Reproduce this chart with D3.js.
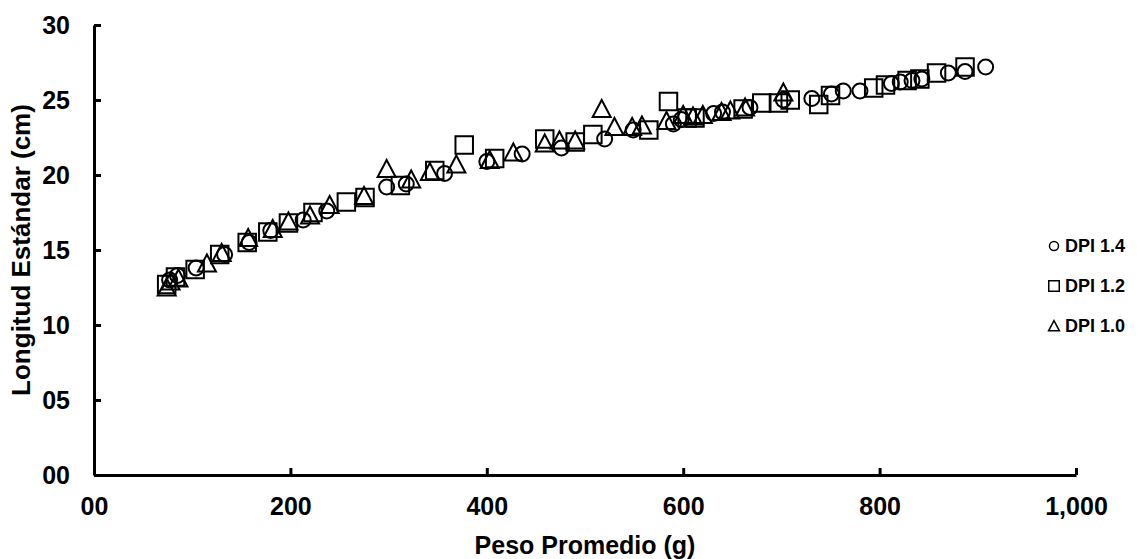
<!DOCTYPE html>
<html>
<head>
<meta charset="utf-8">
<script src="https://cdn.jsdelivr.net/npm/d3@7"></script>
<style>
  body { margin: 0; background: #fff; }
  text { font-family: "Liberation Sans", Arial, sans-serif; font-weight: bold; fill: #000; }
</style>
</head>
<body>
<div id="chart"></div>
<script>
// Peso promedio (g) vs longitud estandar (cm), one list per DPI
const dpi14 = [
  [77, 13.0], [85, 13.3], [104, 13.8], [133, 14.7], [158, 15.5], [180, 16.3],
  [213, 17.0], [237, 17.6], [298, 19.2], [318, 19.4], [357, 20.1], [400, 20.9],
  [436, 21.4], [476, 21.8], [520, 22.4], [549, 23.0], [590, 23.4], [598, 23.7],
  [631, 24.1], [640, 24.2], [668, 24.5], [702, 25.0], [731, 25.1], [751, 25.4],
  [763, 25.6], [780, 25.6], [812, 26.1], [821, 26.2], [833, 26.3], [843, 26.4],
  [870, 26.8], [887, 26.9], [908, 27.2]
];
const dpi12 = [
  [74, 12.7], [83, 13.2], [103, 13.7], [128, 14.7], [156, 15.5], [177, 16.2],
  [198, 16.8], [223, 17.5], [257, 18.2], [276, 18.5], [312, 19.3], [347, 20.3],
  [377, 22.0], [408, 21.1], [459, 22.4], [490, 22.2], [508, 22.7], [565, 23.0],
  [585, 24.9], [604, 23.8], [612, 23.8], [661, 24.4], [680, 24.8], [697, 24.8],
  [709, 25.0], [738, 24.7], [750, 25.3], [794, 25.8], [806, 26.0], [828, 26.3],
  [841, 26.4], [858, 26.8], [887, 27.2]
];
const dpi10 = [
  [74, 12.5], [78, 12.9], [86, 13.1], [115, 14.1], [130, 14.8], [157, 15.8],
  [182, 16.4], [198, 16.9], [220, 17.3], [240, 18.0], [275, 18.6], [298, 20.4],
  [323, 19.7], [342, 20.2], [369, 20.7], [403, 21.0], [427, 21.5], [459, 22.1],
  [474, 22.3], [490, 22.3], [517, 24.4], [530, 23.2], [548, 23.2], [558, 23.3],
  [583, 23.6], [600, 24.0], [610, 23.9], [620, 24.0], [639, 24.2], [648, 24.3],
  [663, 24.5], [702, 25.5]
];
const seriesNames = ["DPI 1.4", "DPI 1.2", "DPI 1.0"];
const xTicks = [0, 200, 400, 600, 800, 1000];
const xTickLabels = ["00", "200", "400", "600", "800", "1,000"];
const yTicks = [0, 5, 10, 15, 20, 25, 30];
const yTickLabels = ["00", "05", "10", "15", "20", "25", "30"];

const width = 1140, height = 559;
const svg = d3.select("#chart").append("svg")
  .attr("width", width)
  .attr("height", height);

const x = d3.scaleLinear().domain([0, 1000]).range([94, 1076]);
const y = d3.scaleLinear().domain([0, 30]).range([475, 25]);

// marker shapes, big for the plot and small for the legend
function shape(kind, s) {
  if (kind === "circle") {
    const r = 7.5 * s;
    return `M${r},0A${r},${r} 0 1,1 ${-r},0A${r},${r} 0 1,1 ${r},0Z`;
  }
  if (kind === "square") {
    const h = 8.75 * s;
    return `M${-h},${-h}H${h}V${h}H${-h}Z`;
  }
  const b = 9 * s;
  return `M0,${-9 * s}L${b},${8 * s}L${-b},${8 * s}Z`;
}

const series = [
  { name: seriesNames[0], kind: "circle", data: dpi14 },
  { name: seriesNames[1], kind: "square", data: dpi12 },
  { name: seriesNames[2], kind: "triangle", data: dpi10 }
];

series.forEach(s => {
  svg.append("g")
    .selectAll("path")
    .data(s.data)
    .join("path")
      .attr("transform", d => `translate(${x(d[0])},${y(d[1])})`)
      .attr("d", shape(s.kind, 1))
      .attr("fill", "none")
      .attr("stroke", "#000")
      .attr("stroke-width", 2);
});

const xAxis = svg.append("g")
  .attr("transform", `translate(0,${y(0)})`)
  .call(d3.axisBottom(x)
    .tickValues(xTicks)
    .tickFormat((d, i) => xTickLabels[i])
    .tickSize(-7)
    .tickSizeOuter(0)
    .tickPadding(22));

const yAxis = svg.append("g")
  .attr("transform", `translate(${x(0)},0)`)
  .call(d3.axisLeft(y)
    .tickValues(yTicks)
    .tickFormat((d, i) => yTickLabels[i])
    .tickSize(-7)
    .tickSizeOuter(0)
    .tickPadding(24));

[xAxis, yAxis].forEach(g => {
  g.select(".domain").attr("stroke", "#000").attr("stroke-width", 3);
  g.selectAll(".tick line").attr("stroke", "#000").attr("stroke-width", 3);
  g.selectAll(".tick text")
    .attr("font-size", 25)
    .attr("font-family", "Liberation Sans, Arial, sans-serif")
    .attr("font-weight", "bold");
});

svg.append("text")
  .attr("x", (x(0) + x(1000)) / 2)
  .attr("y", 554)
  .attr("text-anchor", "middle")
  .attr("font-size", 25)
  .text("Peso Promedio (g)");

svg.append("text")
  .attr("transform", `translate(30,${(y(0) + y(30)) / 2}) rotate(-90)`)
  .attr("text-anchor", "middle")
  .attr("font-size", 26)
  .text("Longitud Estándar (cm)");

const legend = svg.append("g")
  .selectAll("g")
  .data(series)
  .join("g")
    .attr("transform", (d, i) => `translate(1054,${246 + i * 40})`);

legend.append("path")
  .attr("d", d => shape(d.kind, 0.6))
  .attr("fill", "none")
  .attr("stroke", "#000")
  .attr("stroke-width", 1.5);

legend.append("text")
  .attr("x", 11)
  .attr("dy", "0.36em")
  .attr("font-size", 18)
  .text(d => d.name);
</script>
</body>
</html>
